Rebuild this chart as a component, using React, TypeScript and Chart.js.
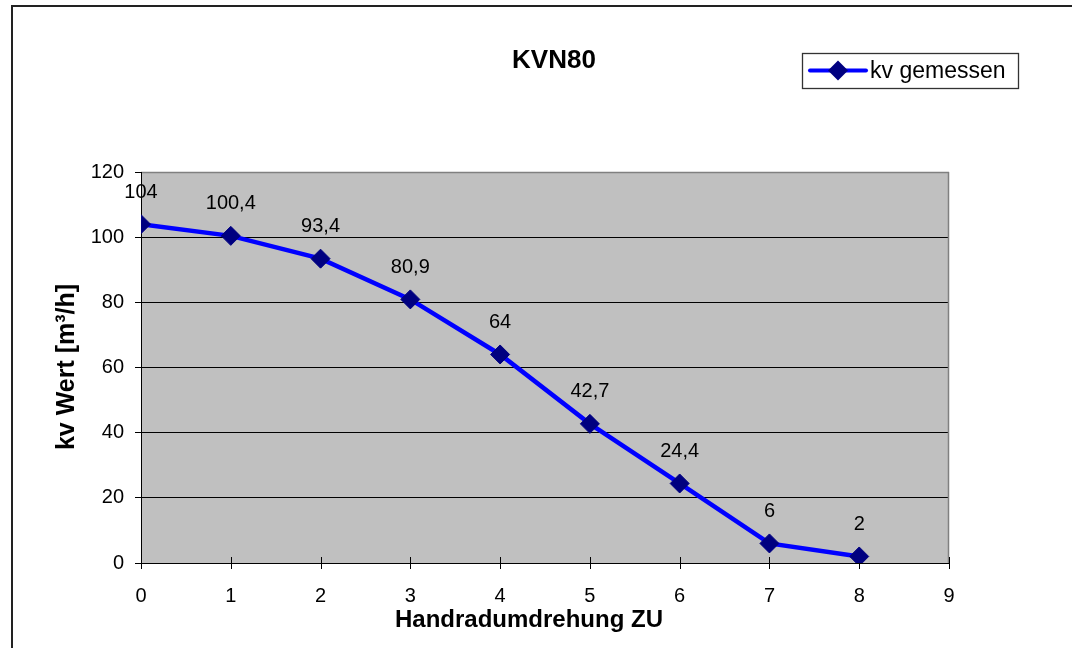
import { useEffect, useRef } from 'react';
import { Chart, registerables } from 'chart.js';

Chart.register(...registerables);

const xValues = [0, 1, 2, 3, 4, 5, 6, 7, 8];
const kvValues = [104, 100.4, 93.4, 80.9, 64, 42.7, 24.4, 6, 2];
const pointLabels = ['104', '100,4', '93,4', '80,9', '64', '42,7', '24,4', '6', '2'];
const xTickValues = [0, 1, 2, 3, 4, 5, 6, 7, 8, 9];
const yTickValues = [0, 20, 40, 60, 80, 100, 120];
const chartTitle = 'KVN80';
const seriesName = 'kv gemessen';
const xAxisTitle = 'Handradumdrehung ZU';
const yAxisTitle = 'kv Wert [m³/h]';

const FONT = "'Liberation Sans', Arial, Helvetica, sans-serif";
const LINE_BLUE = '#0000ff';
const NAVY = '#000080';
const PLOT_BG = '#c0c0c0';

function drawDiamond(ctx: CanvasRenderingContext2D, x: number, y: number, r: number) {
  ctx.beginPath();
  ctx.moveTo(x - r, y);
  ctx.lineTo(x, y - r);
  ctx.lineTo(x + r, y);
  ctx.lineTo(x, y + r);
  ctx.closePath();
  ctx.fillStyle = NAVY;
  ctx.fill();
}

const decorPlugin = {
  id: 'decor',
  beforeDraw(chart: any) {
    const { ctx, chartArea } = chart;
    ctx.save();
    ctx.fillStyle = '#ffffff';
    ctx.fillRect(0, 0, chart.width, chart.height);
    ctx.fillStyle = PLOT_BG;
    ctx.fillRect(chartArea.left, chartArea.top, chartArea.right - chartArea.left, chartArea.bottom - chartArea.top);
    ctx.restore();
  },
  beforeDatasetsDraw(chart: any) {
    const { ctx, chartArea, scales } = chart;
    ctx.save();
    ctx.strokeStyle = '#808080';
    ctx.lineWidth = 1.5;
    ctx.beginPath();
    ctx.moveTo(chartArea.left, chartArea.top + 0.5);
    ctx.lineTo(chartArea.right, chartArea.top + 0.5);
    ctx.moveTo(chartArea.right - 0.5, chartArea.top);
    ctx.lineTo(chartArea.right - 0.5, chartArea.bottom);
    ctx.stroke();
    ctx.strokeStyle = '#000000';
    ctx.lineWidth = 1;
    ctx.beginPath();
    for (const v of xTickValues) {
      const px = Math.round(scales.x.getPixelForValue(v)) + 0.5;
      ctx.moveTo(px, chartArea.bottom - 6);
      ctx.lineTo(px, chartArea.bottom + 6);
    }
    ctx.stroke();
    ctx.beginPath();
    ctx.moveTo(chartArea.left + 0.5, chartArea.top);
    ctx.lineTo(chartArea.left + 0.5, chartArea.bottom);
    ctx.moveTo(chartArea.left, chartArea.bottom + 0.5);
    ctx.lineTo(chartArea.right, chartArea.bottom + 0.5);
    ctx.stroke();
    ctx.restore();
  },
  afterDatasetsDraw(chart: any) {
    const { ctx } = chart;
    const meta = chart.getDatasetMeta(0);
    ctx.save();
    ctx.fillStyle = '#000000';
    ctx.font = `20px ${FONT}`;
    ctx.textAlign = 'center';
    ctx.textBaseline = 'middle';
    meta.data.forEach((pt: any, i: number) => {
      ctx.fillText(pointLabels[i], pt.x, pt.y - 32);
    });
    // title
    ctx.font = `bold 26px ${FONT}`;
    ctx.fillText(chartTitle, 554, 61);
    // axis titles
    ctx.font = `bold 24px ${FONT}`;
    ctx.fillText(xAxisTitle, 529, 620);
    ctx.save();
    ctx.translate(67, 367);
    ctx.rotate(-Math.PI / 2);
    ctx.font = `bold 25px ${FONT}`;
    ctx.fillText(yAxisTitle, 0, 0);
    ctx.restore();
    // legend
    ctx.fillStyle = '#ffffff';
    ctx.fillRect(802, 53, 216, 35);
    ctx.strokeStyle = '#333333';
    ctx.lineWidth = 1.3;
    ctx.strokeRect(802.5, 53.5, 216, 35);
    ctx.strokeStyle = LINE_BLUE;
    ctx.lineWidth = 4;
    ctx.lineCap = 'round';
    ctx.beginPath();
    ctx.moveTo(810, 70.5);
    ctx.lineTo(866, 70.5);
    ctx.stroke();
    drawDiamond(ctx, 838, 70.5, 10);
    ctx.fillStyle = '#000000';
    ctx.font = `23px ${FONT}`;
    ctx.textAlign = 'left';
    ctx.fillText(seriesName, 870, 71.5);
    // outer frame
    ctx.strokeStyle = '#222222';
    ctx.lineWidth = 2;
    ctx.lineCap = 'butt';
    ctx.beginPath();
    ctx.moveTo(12, chart.height + 2);
    ctx.lineTo(12, 6);
    ctx.lineTo(chart.width + 2, 6);
    ctx.stroke();
    ctx.restore();
  },
};

export default function App() {
  const canvasRef = useRef<HTMLCanvasElement | null>(null);

  useEffect(() => {
    const canvas = canvasRef.current;
    if (!canvas) return;
    const chart = new Chart(canvas, {
      type: 'line',
      data: {
        datasets: [
          {
            label: seriesName,
            data: xValues.map((x, i) => ({ x, y: kvValues[i] })),
            borderColor: LINE_BLUE,
            borderWidth: 4.5,
            backgroundColor: NAVY,
            pointBackgroundColor: NAVY,
            pointBorderColor: NAVY,
            pointBorderWidth: 1,
            pointStyle: 'rectRot',
            pointRadius: 9.5,
            tension: 0,
            fill: false,
          },
        ],
      },
      options: {
        responsive: false,
        animation: false,
        devicePixelRatio: 1,
        layout: { padding: { left: 0, top: 172, right: 123, bottom: 0 } },
        plugins: {
          legend: { display: false },
          title: { display: false },
          tooltip: { enabled: false },
        },
        scales: {
          x: {
            type: 'linear',
            min: 0,
            max: 9,
            afterFit: (scale: any) => {
              scale.height = 85;
            },
            afterBuildTicks: (scale: any) => {
              scale.ticks = xTickValues.map((v) => ({ value: v }));
            },
            grid: { display: true, drawOnChartArea: false, drawTicks: false, color: '#000' },
            border: { display: false },
            ticks: {
              color: '#000',
              font: { family: FONT, size: 20 },
              padding: 21,
              maxRotation: 0,
              autoSkip: false,
            },
            title: { display: false },
          },
          y: {
            type: 'linear',
            min: 0,
            max: 120,
            afterFit: (scale: any) => {
              scale.width = 141;
            },
            afterBuildTicks: (scale: any) => {
              scale.ticks = yTickValues.map((v) => ({ value: v }));
            },
            grid: {
              color: (ctx: any) => (ctx.tick && ctx.tick.value === 120 ? '#808080' : '#000000'),
              tickColor: '#000000',
              tickLength: 6,
              lineWidth: 1,
            },
            border: { display: false },
            ticks: {
              color: '#000',
              font: { family: FONT, size: 20 },
              padding: 11,
            },
            title: { display: false },
          },
        },
      } as any,
      plugins: [decorPlugin],
    });
    return () => chart.destroy();
  }, []);

  return (
    <div style={{ position: 'fixed', left: 0, top: 0, width: 1072, height: 648, overflow: 'hidden', background: '#fff' }}>
      <canvas ref={canvasRef} width={1072} height={648} style={{ display: 'block', width: 1072, height: 648 }} />
    </div>
  );
}
